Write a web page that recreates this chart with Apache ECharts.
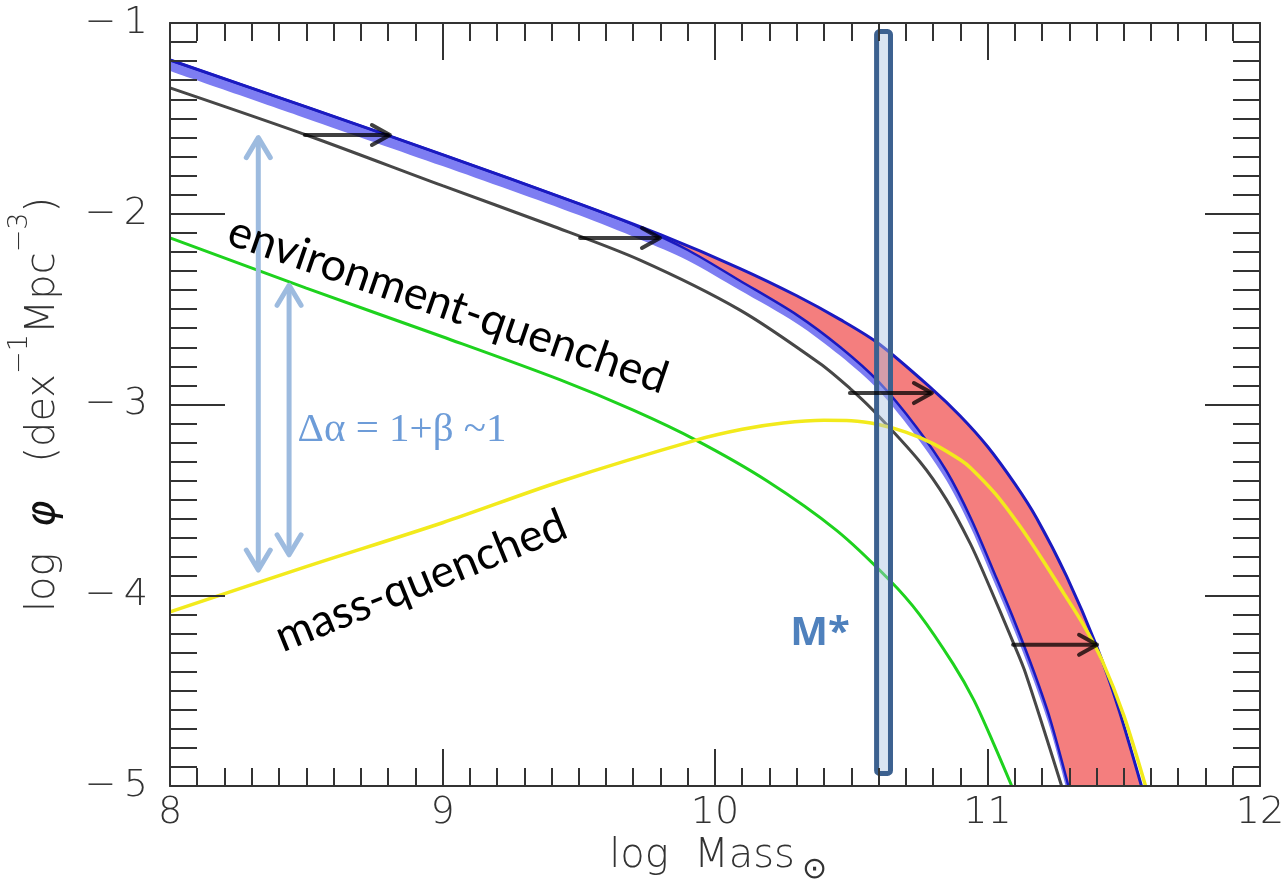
<!DOCTYPE html>
<html>
<head>
<meta charset="utf-8">
<title>log phi vs log Mass</title>
<script src="https://cdn.jsdelivr.net/npm/echarts@6/dist/echarts.min.js"></script>
<style>
  html, body { margin: 0; padding: 0; background: #fff; }
  #chart { width: 1285px; height: 881px; }
</style>
</head>
<body>
<div id="chart"></div>
<script>
// points, [log Mass, log phi]
var totalTop = [
  [8.0, -1.194], [8.5, -1.44], [9.0, -1.69], [9.5, -1.947], [9.8, -2.11],
  [10.09, -2.286], [10.3, -2.43], [10.46, -2.555], [10.6, -2.68], [10.79, -2.91],
  [10.9, -3.06], [11.0, -3.22], [11.1, -3.415], [11.18, -3.595], [11.29, -3.9],
  [11.4, -4.265], [11.48, -4.59], [11.565, -5.0]
];
var sfTop = [
  [8.0, -1.194], [8.5, -1.44], [9.0, -1.69], [9.5, -1.947], [9.725, -2.072],
  [9.9, -2.19], [10.09, -2.35], [10.3, -2.53], [10.46, -2.7], [10.6, -2.88],
  [10.74, -3.12], [10.85, -3.35], [10.94, -3.6], [11.03, -3.9], [11.1, -4.14],
  [11.17, -4.4], [11.23, -4.65], [11.297, -5.0]
];
var sfBottom = [
  [8.0, -1.252], [8.5, -1.5], [9.0, -1.75], [9.5, -2.007], [9.725, -2.135],
  [9.9, -2.245], [10.09, -2.4], [10.3, -2.575], [10.46, -2.745], [10.6, -2.925],
  [10.74, -3.17], [10.85, -3.4], [10.94, -3.65], [11.03, -3.95], [11.1, -4.19],
  [11.17, -4.45], [11.23, -4.7], [11.287, -5.0]
];
var greyCurve = [
  [8.0, -1.34], [8.5, -1.587], [9.0, -1.853], [9.394, -2.059], [9.725, -2.243],
  [10.092, -2.505], [10.385, -2.785], [10.495, -2.915], [10.58, -3.03], [10.752, -3.3],
  [10.85, -3.5], [10.936, -3.727], [10.997, -3.92], [11.095, -4.25], [11.14, -4.41],
  [11.272, -5.0]
];
var envQuenched = [
  [8.0, -2.126], [8.5, -2.39], [9.0, -2.645], [9.43, -2.87], [9.7, -3.03],
  [9.93, -3.187], [10.19, -3.4], [10.446, -3.66], [10.64, -3.92], [10.75, -4.1],
  [10.874, -4.36], [10.95, -4.55], [11.02, -4.77], [11.089, -5.0]
];
var massQuenched = [
  [8.0, -4.087], [8.5, -3.85], [9.0, -3.62], [9.43, -3.405], [9.93, -3.187],
  [10.1, -3.13], [10.25, -3.097], [10.4, -3.083], [10.5, -3.085], [10.6, -3.105],
  [10.7, -3.145], [10.8, -3.205], [10.9, -3.29], [10.94, -3.335], [11.03, -3.47],
  [11.12, -3.64], [11.2, -3.81], [11.28, -3.99], [11.35, -4.15], [11.42, -4.34],
  [11.5, -4.63], [11.58, -5.0]
];
// [x start, x end, y]
var shiftArrows = [[8.495, 8.807, -1.587], [9.505, 9.798, -2.127], [10.495, 10.796, -2.94], [11.094, 11.402, -4.26]];
// [x, y top, y bottom]
var slopeArrows = [[8.324, -1.601, -3.868], [8.437, -2.375, -3.788]];
// [x left, x right, y top, y bottom]
var mStarBand = [[10.593, 10.644, -1.045, -4.934]];

var xTicks = [8, 9, 10, 11, 12];
var yTicks = [-5, -4, -3, -2, -1];

var chart = echarts.init(document.getElementById('chart'));

var axisFont = { fontFamily: 'DejaVu Sans', fontWeight: 200, fontSize: 38, color: '#333' };
var frameLine = { show: true, onZero: false, lineStyle: { color: '#333', width: 2 } };

function fill(name, data, color) {
  return {
    name: name, type: 'line', data: data, smooth: 0.3, symbol: 'none', silent: true, z: 1,
    lineStyle: { width: 0, opacity: 0 },
    areaStyle: { color: color, opacity: 1, origin: 'start' }
  };
}
function curve(name, data, color, width) {
  return {
    name: name, type: 'line', data: data, smooth: 0.3, symbol: 'none', silent: true, z: 2,
    lineStyle: { color: color, width: width }
  };
}
function chevron(tip, dx, dy, len, half) {
  // open arrow head pointing along (dx, dy)
  var nx = -dy, ny = dx;
  return [
    [tip[0] - dx * len + nx * half, tip[1] - dy * len + ny * half],
    tip,
    [tip[0] - dx * len - nx * half, tip[1] - dy * len - ny * half]
  ];
}

var option = {
  animation: false,
  backgroundColor: '#fff',
  grid: { left: 170, right: 25, top: 23, bottom: 95, containLabel: false, outerBoundsMode: 'none' },
  xAxis: [{
    type: 'value', min: 8, max: 12, interval: 1, z: 10,
    axisLine: frameLine,
    axisTick: { inside: true, length: 37, lineStyle: { color: '#333', width: 2 } },
    minorTick: { show: true, splitNumber: 10, length: 18, lineStyle: { color: '#333', width: 2 } },
    splitLine: { show: false },
    axisLabel: Object.assign({ margin: 8, formatter: function (v) { return xTicks.indexOf(v) >= 0 ? String(v) : ''; } }, axisFont),
    name: 'log  Mass',
    nameLocation: 'middle', nameGap: 42,
    nameTextStyle: { fontFamily: 'DejaVu Sans', fontWeight: 200, fontSize: 40, color: '#333', lineHeight: 40, padding: [0, 26, 0, 0] }
  }, {
    type: 'value', position: 'top', min: 8, max: 12, interval: 1, z: 10,
    axisLine: frameLine,
    axisTick: { inside: true, length: 37, lineStyle: { color: '#333', width: 2 } },
    minorTick: { show: true, splitNumber: 10, length: 18, lineStyle: { color: '#333', width: 2 } },
    splitLine: { show: false },
    axisLabel: { show: false }
  }],
  yAxis: [{
    type: 'value', min: -5, max: -1, interval: 1, z: 10,
    axisLine: frameLine,
    axisTick: { inside: true, length: 55, lineStyle: { color: '#333', width: 2 } },
    minorTick: { show: true, splitNumber: 10, length: 27, lineStyle: { color: '#333', width: 2 } },
    splitLine: { show: false },
    axisLabel: Object.assign({ margin: 22, formatter: function (v) {
      return yTicks.indexOf(v) >= 0 ? '\u2212\u2009' + Math.abs(v) : '';
    } }, axisFont),
    name: '{n|log  }{phi|\u03c6}{n|   (dex}{s|\u22121}{n|Mpc}{s|\u22123}{n|)}',
    nameLocation: 'middle', nameRotate: 90, nameGap: 88,
    nameTextStyle: {
      rich: {
        n: { fontFamily: 'DejaVu Sans', fontWeight: 200, fontSize: 40, color: '#333', lineHeight: 76 },
        phi: { fontFamily: 'DejaVu Sans', fontStyle: 'italic', fontSize: 40, color: '#111', lineHeight: 76 },
        s: { fontFamily: 'DejaVu Sans', fontWeight: 200, fontSize: 27, color: '#333', lineHeight: 76, verticalAlign: 'top' }
      }
    }
  }, {
    type: 'value', position: 'right', min: -5, max: -1, interval: 1, z: 10,
    axisLine: frameLine,
    axisTick: { inside: true, length: 55, lineStyle: { color: '#333', width: 2 } },
    minorTick: { show: true, splitNumber: 10, length: 27, lineStyle: { color: '#333', width: 2 } },
    splitLine: { show: false },
    axisLabel: { show: false }
  }],
  series: [
    fill('mass-quenched band', totalTop, '#f47e7e'),
    fill('star-forming band', sfTop, '#7d7df2'),
    fill('below band', sfBottom, '#ffffff'),
    curve('grey', greyCurve, '#474747', 3),
    curve('environment-quenched', envQuenched, '#1ed21e', 3),
    curve('sf top', sfTop, '#1a1ac0', 2.5),
    curve('total', totalTop, '#1a1ac0', 3),
    curve('mass-quenched', massQuenched, '#f2ea1c', 3.5),
    {
      name: 'M*', type: 'custom', data: mStarBand, silent: true, z: 3,
      renderItem: function (params, api) {
        var p0 = api.coord([api.value(0), api.value(2)]);
        var p1 = api.coord([api.value(1), api.value(3)]);
        return {
          type: 'rect',
          shape: { x: p0[0], y: p0[1], width: p1[0] - p0[0], height: p1[1] - p0[1], r: 3 },
          style: { fill: 'rgba(170,195,225,0.45)', stroke: '#3c6190', lineWidth: 5 }
        };
      }
    },
    {
      name: 'shift', type: 'custom', data: shiftArrows, silent: true, z: 4,
      renderItem: function (params, api) {
        var a = api.coord([api.value(0), api.value(2)]);
        var b = api.coord([api.value(1), api.value(2)]);
        var st = { stroke: 'rgba(0,0,0,0.75)', lineWidth: 4, fill: null, lineCap: 'round', lineJoin: 'round' };
        return {
          type: 'group',
          children: [
            { type: 'line', shape: { x1: a[0], y1: a[1], x2: b[0] - 2, y2: b[1] }, style: st },
            { type: 'polyline', shape: { points: chevron(b, 1, 0, 18, 10) }, style: st }
          ]
        };
      }
    },
    {
      name: 'delta alpha', type: 'custom', data: slopeArrows, silent: true, z: 4,
      renderItem: function (params, api) {
        var a = api.coord([api.value(0), api.value(1)]);
        var b = api.coord([api.value(0), api.value(2)]);
        var st = { stroke: '#9dbbdf', lineWidth: 5, fill: null, lineCap: 'round', lineJoin: 'round' };
        return {
          type: 'group',
          children: [
            { type: 'line', shape: { x1: a[0], y1: a[1] + 2, x2: b[0], y2: b[1] - 2 }, style: st },
            { type: 'polyline', shape: { points: chevron(a, 0, -1, 20, 12) }, style: st },
            { type: 'polyline', shape: { points: chevron(b, 0, 1, 20, 12) }, style: st }
          ]
        };
      }
    }
  ],
  graphic: [
    { type: 'text', x: 814, y: 870, z: 20,
      style: { text: '\u2299', font: '200 30px "DejaVu Sans"', fill: '#333', align: 'center', verticalAlign: 'middle' } },
    { type: 'text', x: 448, y: 305, rotation: -19 * Math.PI / 180, z: 20,
      style: { text: 'environment-quenched', font: '45px Lato', fill: '#000', align: 'center', verticalAlign: 'middle' } },
    { type: 'text', x: 421, y: 581, rotation: 22 * Math.PI / 180, z: 20,
      style: { text: 'mass-quenched', font: '45px Lato', fill: '#000', align: 'center', verticalAlign: 'middle' } },
    { type: 'text', x: 402, y: 430, z: 20,
      style: { text: '\u0394\u03b1 = 1+\u03b2 ~1', font: '41px "Liberation Serif"', fill: '#6d9cd8', align: 'center', verticalAlign: 'middle' } },
    { type: 'text', x: 820, y: 634, z: 20,
      style: { text: 'M*', font: 'bold 40px "Open Sans"', fill: '#4f81bd', align: 'center', verticalAlign: 'middle' } }
  ]
};

chart.setOption(option);
</script>
</body>
</html>
